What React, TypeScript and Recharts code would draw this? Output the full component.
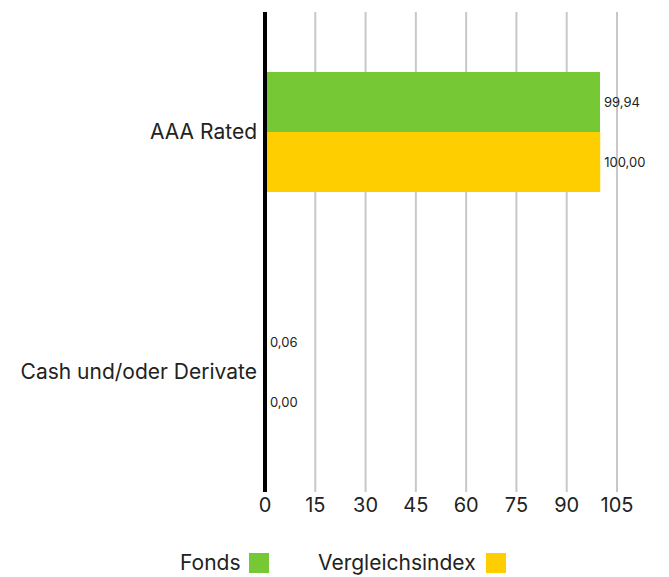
import { Bar, BarChart, CartesianGrid, LabelList, ReferenceLine, XAxis, YAxis } from 'recharts'

const categories = ['AAA Rated', 'Cash und/oder Derivate']
const fonds = [99.94, 0.06]
const vergleichsindex = [100.0, 0.0]
const xTicks = [0, 15, 30, 45, 60, 75, 90, 105]

const FONT = 'Inter, "Noto Sans", sans-serif'
const GREEN = '#76c935'
const YELLOW = '#ffce00'

const data = categories.map((name, i) => ({ name, fonds: fonds[i], index: vergleichsindex[i] }))

function formatDE(v: unknown): string {
  return Number(v).toFixed(2).replace('.', ',')
}

const labelStyle = { fontSize: 13, fill: '#222', fontFamily: FONT }

export default function App() {
  return (
    <div style={{ position: 'absolute', left: 0, top: 0, width: 669, height: 577, fontFamily: FONT, background: '#fff' }}>
      <BarChart
        width={669}
        height={577}
        data={data}
        layout="vertical"
        margin={{ top: 12, right: 52, bottom: 0, left: 0 }}
        barCategoryGap="25%"
        barGap={0}
      >
        <CartesianGrid horizontal={false} stroke="#c8c8c8" strokeWidth={2} />
        <XAxis
          type="number"
          domain={[0, 105]}
          ticks={xTicks}
          height={85}
          axisLine={false}
          tickLine={false}
          tickSize={4}
          tickMargin={2}
          tick={{ fontSize: 20, fill: '#222', fontFamily: FONT }}
        />
        <YAxis
          type="category"
          dataKey="name"
          width={265}
          axisLine={false}
          tickLine={false}
          tick={{ fontSize: 21, fill: '#222', fontFamily: FONT }}
        />
        <Bar dataKey="fonds" fill={GREEN} minPointSize={1} isAnimationActive={false}>
          <LabelList dataKey="fonds" position="right" offset={4} formatter={formatDE} style={labelStyle} />
        </Bar>
        <Bar dataKey="index" fill={YELLOW} minPointSize={1} isAnimationActive={false}>
          <LabelList dataKey="index" position="right" offset={4} formatter={formatDE} style={labelStyle} />
        </Bar>
        <ReferenceLine x={0} stroke="#000" strokeWidth={4} />
      </BarChart>
      <div style={{ position: 'absolute', left: 0, top: 553, width: 669, height: 20, fontSize: 21, color: '#222', lineHeight: '20px' }}>
        <span style={{ position: 'absolute', left: 180, top: 0 }}>Fonds</span>
        <span style={{ position: 'absolute', left: 249, top: 0, width: 20, height: 20, background: GREEN }} />
        <span style={{ position: 'absolute', left: 318, top: 0 }}>Vergleichsindex</span>
        <span style={{ position: 'absolute', left: 486, top: 0, width: 20, height: 20, background: YELLOW }} />
      </div>
    </div>
  )
}
